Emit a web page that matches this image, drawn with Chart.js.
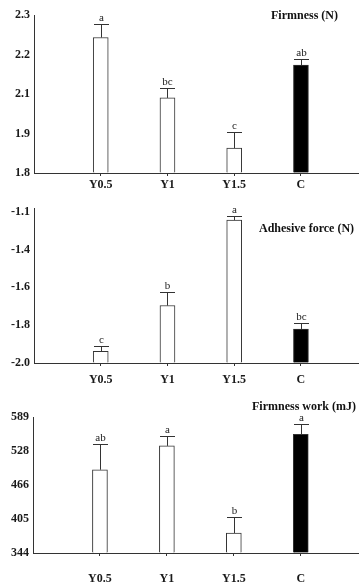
<!DOCTYPE html>
<html lang="en">
<head>
    <meta charset="UTF-8">
    <title>Texture parameters</title>
    <script src="https://cdn.jsdelivr.net/npm/chart.js"></script>
    <style>
        body {
            margin: 0;
            background: #fff;
        }
        .panel {
            position: absolute;
            left: 0;
            width: 359px;
        }
        .panel canvas {
            display: block;
        }
        .panel-title {
            position: absolute;
            font: bold 12px 'Liberation Serif', 'Times New Roman', serif;
            line-height: 14px;
            color: #111;
            white-space: nowrap;
        }
    </style>
</head>
<body>
    <div class="panel" style="top:0"><canvas id="firmnessChart" width="359" height="195"></canvas></div>
    <div class="panel" style="top:195px"><canvas id="adhesiveChart" width="359" height="195"></canvas></div>
    <div class="panel" style="top:390px"><canvas id="workChart" width="359" height="196"></canvas></div>

    <div class="panel-title" style="left:271px;top:8px">Firmness (N)</div>
    <div class="panel-title" style="left:259px;top:221px">Adhesive force (N)</div>
    <div class="panel-title" style="left:252px;top:399px">Firmness work (mJ)</div>

    <script>
        const categories = ['Y0.5', 'Y1', 'Y1.5', 'C'];

        // the printed firmness and adhesive axes are evenly spaced but their labels are not,
        // so those values are read in tick steps (0 = bottom tick, 4 = top tick)
        const firmnessTicks = ['1.8', '1.9', '2.1', '2.2', '2.3'];
        const firmnessValues = [3.43, 1.90, 0.63, 2.73];
        const firmnessErrors = [0.35, 0.25, 0.41, 0.15];
        const firmnessLetters = ['a', 'bc', 'c', 'ab'];

        const adhesiveTicks = ['-2.0', '-1.8', '-1.6', '-1.4', '-1.1'];
        const adhesiveValues = [0.31, 1.52, 3.78, 0.90];
        const adhesiveErrors = [0.13, 0.37, 0.11, 0.17];
        const adhesiveLetters = ['c', 'b', 'a', 'bc'];

        // firmness work axis is linear in mJ
        const workTicks = [344, 405, 466, 528, 589];
        const workValues = [494, 537, 380, 558];
        const workErrors = [46, 17, 28, 19];
        const workLetters = ['ab', 'a', 'b', 'a'];

        const barFill = ['#ffffff', '#ffffff', '#ffffff', '#000000'];
        const axisFont = { family: "'Liberation Serif', 'Times New Roman', serif", size: 12, weight: 'bold' };

        // error bar (upper half only) plus significance letter above each bar
        const errorBars = {
            id: 'errorBars',
            afterDatasetsDraw(chart, args, opts) {
                const ctx = chart.ctx;
                const yScale = chart.scales.y;
                const meta = chart.getDatasetMeta(0);
                ctx.save();
                ctx.strokeStyle = '#333';
                ctx.lineWidth = 1;
                ctx.fillStyle = '#222';
                ctx.font = "11px 'Liberation Serif', 'Times New Roman', serif";
                ctx.textAlign = 'center';
                ctx.textBaseline = 'bottom';
                meta.data.forEach((bar, i) => {
                    const x = Math.round(bar.x) + 0.5;
                    const cap = Math.round(yScale.getPixelForValue(opts.values[i] + opts.errors[i])) + 0.5;
                    const half = bar.width / 2;
                    ctx.beginPath();
                    ctx.moveTo(x, bar.y);
                    ctx.lineTo(x, cap);
                    ctx.moveTo(x - half, cap);
                    ctx.lineTo(x + half, cap);
                    ctx.stroke();
                    ctx.fillText(opts.letters[i], x, cap - 1);
                });
                ctx.restore();
            }
        };

        function makePanel(id, p) {
            const ctx = document.getElementById(id).getContext('2d');
            return new Chart(ctx, {
                type: 'bar',
                data: {
                    datasets: [{
                        data: p.values.map((v, i) => ({ x: i + 1, y: v })),
                        base: p.yMin,
                        backgroundColor: barFill,
                        borderColor: '#333',
                        borderWidth: 1,
                        barThickness: 15
                    }]
                },
                options: {
                    responsive: false,
                    animation: false,
                    layout: { padding: { top: p.padTop, left: 0, right: 0, bottom: 0 } },
                    plugins: {
                        legend: { display: false },
                        tooltip: { enabled: false },
                        errorBars: { values: p.values, errors: p.errors, letters: p.letters }
                    },
                    scales: {
                        x: {
                            type: 'linear',
                            min: 0,
                            max: 4.87,
                            offset: false,
                            grid: { offset: false, drawOnChartArea: false, drawTicks: true, tickLength: 3, color: '#333' },
                            border: { display: true, color: '#333', width: 1 },
                            afterBuildTicks: (scale) => {
                                scale.ticks = categories.map((c, i) => ({ value: i + 1 }));
                            },
                            afterFit: (scale) => { scale.height = p.xHeight; },
                            ticks: {
                                autoSkip: false,
                                maxRotation: 0,
                                padding: p.xPad,
                                color: '#1a1a1a',
                                font: axisFont,
                                callback: (v) => categories[v - 1] || ''
                            }
                        },
                        y: {
                            min: p.yMin,
                            max: p.yMax,
                            grid: { drawOnChartArea: false, drawTicks: false },
                            border: { display: true, color: '#333', width: 1 },
                            afterBuildTicks: (scale) => {
                                scale.ticks = p.tickValues.map(v => ({ value: v }));
                            },
                            afterFit: (scale) => { scale.width = p.yWidth; },
                            ticks: {
                                padding: 4,
                                color: '#1a1a1a',
                                font: axisFont,
                                callback: (v, i) => p.tickLabels[i]
                            }
                        }
                    }
                },
                plugins: [errorBars]
            });
        }

        makePanel('firmnessChart', {
            values: firmnessValues, errors: firmnessErrors, letters: firmnessLetters,
            tickValues: [0, 1, 2, 3, 4], tickLabels: firmnessTicks,
            yMin: 0, yMax: 4, padTop: 15, xHeight: 22, xPad: 2, yWidth: 34
        });

        makePanel('adhesiveChart', {
            values: adhesiveValues, errors: adhesiveErrors, letters: adhesiveLetters,
            tickValues: [0, 1, 2, 3, 4], tickLabels: adhesiveTicks,
            yMin: 0, yMax: 4.1, padTop: 13, xHeight: 27, xPad: 7, yWidth: 34
        });

        makePanel('workChart', {
            values: workValues, errors: workErrors, letters: workLetters,
            tickValues: workTicks, tickLabels: workTicks.map(String),
            yMin: 344, yMax: 589, padTop: 27, xHeight: 33, xPad: 16, yWidth: 33
        });
    </script>
</body>
</html>
